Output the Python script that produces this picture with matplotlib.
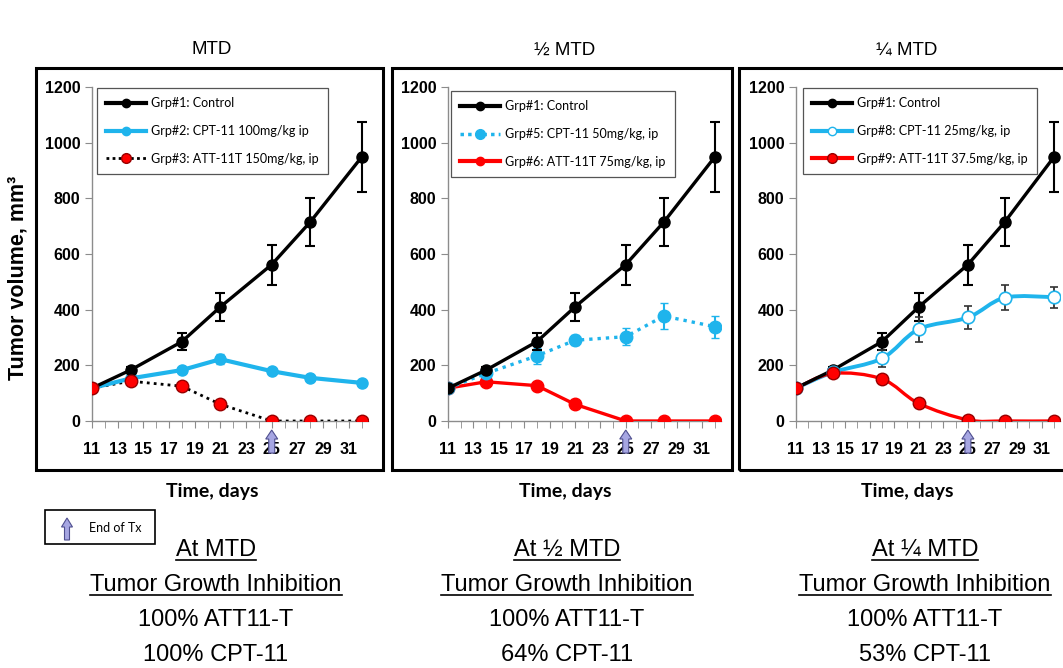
import matplotlib
matplotlib.use("Agg")
import matplotlib.pyplot as plt
import matplotlib.patches as mpatches
from matplotlib.lines import Line2D
from matplotlib.path import Path
from matplotlib.transforms import blended_transform_factory
from matplotlib import font_manager

# ---- data ----
days = [11, 14, 18, 21, 25, 28, 32]
control = [118, 183, 285, 410, 562, 715, 948]
control_err = [8, 12, 30, 50, 72, 87, 127]

grp2 = [118, 153, 183, 222, 179, 155, 137]
grp2_err = [5, 8, 10, 18, 10, 10, 8]
grp3 = [118, 143, 125, 60, 0, 0, 0]

grp5 = [118, 171, 234, 290, 303, 377, 339]
grp5_err = [5, 10, 30, 18, 30, 48, 40]
grp6 = [118, 141, 127, 60, 0, 0, 0]

grp8 = [118, 175, 225, 330, 372, 443, 445]
grp8_err = [5, 10, 30, 45, 40, 45, 38]
grp9 = [118, 171, 151, 63, 4, 0, 0]

titles = ["MTD", "½ MTD", "¼ MTD"]
legend_labels = [
    ["Grp#1: Control", "Grp#2: CPT-11 100mg/kg ip", "Grp#3: ATT-11T 150mg/kg, ip"],
    ["Grp#1: Control", "Grp#5: CPT-11 50mg/kg, ip", "Grp#6: ATT-11T 75mg/kg, ip"],
    ["Grp#1: Control", "Grp#8: CPT-11 25mg/kg, ip", "Grp#9: ATT-11T 37.5mg/kg, ip"],
]
summary = [
    ["At MTD", "Tumor Growth Inhibition", "100% ATT11-T", "100% CPT-11"],
    ["At ½ MTD", "Tumor Growth Inhibition", "100% ATT11-T", "64% CPT-11"],
    ["At ¼ MTD", "Tumor Growth Inhibition", "100% ATT11-T", "53% CPT-11"],
]
end_day = 25

BLUE = "#1fb4ec"
RED = "#ff0000"
ARROW_FC = "#a6a6e2"
ARROW_EC = "#4f4f8f"
W, H = 1063, 668


def fx(x):
    return x / W


def fy(y):
    return 1 - y / H


def smooth_path(x, y):
    # Catmull-Rom style bezier, like the spreadsheet "smoothed line"
    verts = [(x[0], y[0])]
    codes = [Path.MOVETO]
    n = len(x)
    for i in range(n - 1):
        x0, y0 = (x[i - 1], y[i - 1]) if i > 0 else (x[i], y[i])
        x3, y3 = (x[i + 2], y[i + 2]) if i + 2 < n else (x[i + 1], y[i + 1])
        c1 = (x[i] + (x[i + 1] - x0) / 6, y[i] + (y[i + 1] - y0) / 6)
        c2 = (x[i + 1] - (x3 - x[i]) / 6, y[i + 1] - (y3 - y[i]) / 6)
        verts += [c1, c2, (x[i + 1], y[i + 1])]
        codes += [Path.CURVE4] * 3
    return Path(verts, codes)


# narrow font for the summary text if one is installed
installed = {f.name for f in font_manager.fontManager.ttflist}
if "Liberation Sans Narrow" in installed:
    narrow_family, narrow_size = ["Liberation Sans Narrow", "DejaVu Sans"], 20
else:
    narrow_family, narrow_size = ["Liberation Sans", "DejaVu Sans"], 17

plt.rcParams["font.family"] = ["Liberation Sans", "DejaVu Sans"]
fig = plt.figure(figsize=(W / 100, H / 100), dpi=100)

ax_px = [(92, 368), (448, 721), (796, 1060)]
box_px = [(36, 383), (392, 732), (739, 1075)]
legend_px = [(97, 88), (451, 91), (803, 88)]
label_cx = [212, 565, 907]
top_px, bot_px = 87, 421

axes = []
for k in range(3):
    l, r = ax_px[k]
    ax = fig.add_axes([fx(l), fy(bot_px), (r - l) / W, (bot_px - top_px) / H])
    axes.append(ax)
    bl, br = box_px[k]
    fig.patches.append(mpatches.Rectangle((fx(bl), fy(470)), (br - bl) / W, (470 - 68) / H,
                                          transform=fig.transFigure, fill=False,
                                          ec="black", lw=2.2, zorder=0))
    fig.text(fx(label_cx[k]), fy(50), titles[k], ha="center", va="center", fontsize=13.5)
    fig.text(fx(label_cx[k]), fy(492), "Time, days", ha="center", va="center",
             fontsize=14, fontweight="bold", family=["Lato", "DejaVu Sans"])

lw = 2.4
ms = 8

for ax in axes:
    ax.errorbar(days, control, yerr=control_err, color="black", lw=lw, marker="o", ms=ms,
                capsize=3.5, elinewidth=1.5, capthick=1.5, zorder=5)

# panel 1
a = axes[0]
a.errorbar(days, grp2, yerr=grp2_err, color=BLUE, lw=lw + 0.6, marker="o", ms=ms,
           capsize=3, elinewidth=1.5, zorder=4)
a.plot(days, grp3, color="black", lw=2, ls=(0, (1, 1.5)), zorder=4)
a.plot(days, grp3, ls="none", marker="o", ms=ms + 1, mfc=RED, mec="#990000", zorder=6)

# panel 2
a = axes[1]
a.errorbar(days, grp5, yerr=grp5_err, color=BLUE, lw=lw, ls=(0, (1, 1.5)), marker="o",
           ms=ms + 1, capsize=3, elinewidth=1.5, zorder=4)
a.plot(days, grp6, color=RED, lw=lw, marker="o", ms=ms + 1, mfc=RED, mec=RED, zorder=4)

# panel 3 (smoothed lines)
a = axes[2]
a.add_patch(mpatches.PathPatch(smooth_path(days, grp8), fill=False, ec=BLUE, lw=lw + 0.4,
                               zorder=4))
a.errorbar(days, grp8, yerr=grp8_err, color=BLUE, ls="none", marker="o", ms=ms + 1,
           mfc="white", mec=BLUE, mew=1.2, capsize=3, elinewidth=1.3, ecolor="#333333",
           zorder=5)
a.add_patch(mpatches.PathPatch(smooth_path(days, grp9), fill=False, ec=RED, lw=lw,
                               zorder=4))
a.plot(days, grp9, ls="none", marker="o", ms=ms + 1, mfc=RED, mec="#990000", zorder=6)

handles = [
    [Line2D([], [], color="black", lw=3, marker="o", ms=6),
     Line2D([], [], color=BLUE, lw=3, marker="o", ms=6),
     Line2D([], [], color="black", lw=2, ls=(0, (1, 1.2)), marker="o", ms=7, mfc=RED, mec="#990000")],
    [Line2D([], [], color="black", lw=3, marker="o", ms=6),
     Line2D([], [], color=BLUE, lw=2.5, ls=(0, (1, 1.2)), marker="o", ms=7),
     Line2D([], [], color=RED, lw=3, marker="o", ms=6)],
    [Line2D([], [], color="black", lw=3, marker="o", ms=6),
     Line2D([], [], color=BLUE, lw=3, marker="o", ms=6, mfc="white", mec=BLUE),
     Line2D([], [], color=RED, lw=3, marker="o", ms=7, mec="#990000")],
]

for k, ax in enumerate(axes):
    ax.set_xlim(11, 32.5)
    ax.set_ylim(0, 1200)
    ax.set_xticks(range(11, 33, 2))
    ax.set_yticks(range(0, 1201, 200))
    ax.set_xticks(range(12, 33, 2), minor=True)
    for s in ["top", "right"]:
        ax.spines[s].set_visible(False)
    for s in ["left", "bottom"]:
        ax.spines[s].set_color("#8c8c8c")
        ax.spines[s].set_linewidth(1)
    ax.tick_params(axis="both", which="both", direction="out", color="#8c8c8c", length=5,
                   labelsize=11.5)
    ax.tick_params(axis="x", which="minor", length=5)
    ax.tick_params(axis="x", pad=10)
    for t in ax.get_xticklabels() + ax.get_yticklabels():
        t.set_fontweight("bold")
    ax.patch.set_alpha(0)
    lx, ly = legend_px[k]
    leg = ax.legend(handles[k], legend_labels[k], loc="upper left",
                    bbox_to_anchor=(fx(lx), fy(ly)), bbox_transform=fig.transFigure,
                    borderaxespad=0, fancybox=False, framealpha=1, edgecolor="#555555",
                    handlelength=3.2, handletextpad=0.4, labelspacing=1.25, borderpad=0.75,
                    numpoints=1, prop={"family": ["Lato", "DejaVu Sans"], "size": 9})
    leg.get_frame().set_linewidth(0.9)
    leg.set_zorder(10)
    # end-of-treatment arrow, x in data units, y in axes units
    bt = blended_transform_factory(ax.transData, ax.transAxes)
    px_day = (ax_px[k][1] - ax_px[k][0]) / 21.5
    ax.add_patch(mpatches.FancyArrow(end_day, -0.096, 0, 0.069, width=6 / px_day,
                                     head_width=12 / px_day, head_length=9 / 334,
                                     length_includes_head=True, transform=bt,
                                     fc=ARROW_FC, ec=ARROW_EC, lw=0.8, clip_on=False,
                                     zorder=20))

fig.text(fx(18), fy(278), "Tumor volume, mm³", rotation=90, ha="center", va="center",
         fontsize=15.5, fontweight="bold")

# End of Tx legend box
fig.patches.append(mpatches.Rectangle((fx(45), fy(544)), 110 / W, 34 / H,
                                      transform=fig.transFigure, fill=False, ec="black",
                                      lw=1.2))
fig.patches.append(mpatches.FancyArrow(fx(67), fy(540), 0, 22 / H, width=5 / W,
                                       head_width=11 / W, head_length=9 / H,
                                       length_includes_head=True, transform=fig.transFigure,
                                       fc=ARROW_FC, ec=ARROW_EC, lw=0.8))
fig.text(fx(89), fy(528), "End of Tx", ha="left", va="center", fontsize=9,
         family=["Lato", "DejaVu Sans"])

# summary text under the panels
centers = [216, 567, 925]
rows_y = [550, 585, 620, 655]
summary_texts = []
for k in range(3):
    for j, s in enumerate(summary[k]):
        t = fig.text(fx(centers[k]), fy(rows_y[j]), s, ha="center", va="center",
                     fontsize=narrow_size, family=narrow_family)
        if j < 2:
            summary_texts.append(t)

fig.canvas.draw()
r = fig.canvas.get_renderer()
for t in summary_texts:
    bb = t.get_window_extent(r)
    yl = bb.y0 + 1
    fig.lines.append(Line2D([bb.x0 / W, bb.x1 / W], [yl / H, yl / H], transform=fig.transFigure,
                            color="black", lw=1.2))

fig.savefig("out.png", dpi=100)
